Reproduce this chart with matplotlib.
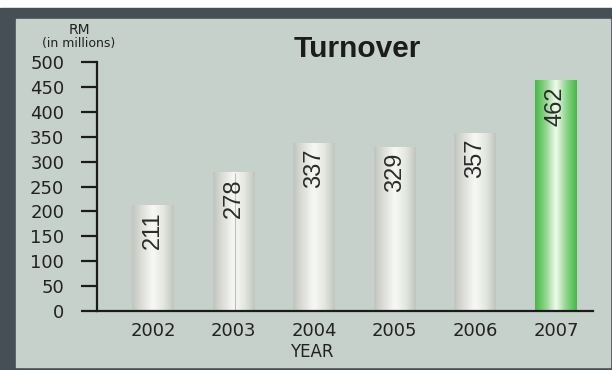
import numpy as np
import matplotlib.pyplot as plt
from matplotlib.colors import LinearSegmentedColormap
from matplotlib.patches import Rectangle

# Turnover, RM millions
years = ["2002", "2003", "2004", "2005", "2006", "2007"]
turnover = [211, 278, 337, 329, 357, 462]
y_ticks = [0, 50, 100, 150, 200, 250, 300, 350, 400, 450, 500]

frame_col = "#464e56"
panel_col = "#c6d1cb"

silver = LinearSegmentedColormap.from_list(
    "silver", ["#bfc5bc", "#dde1da", "#f8f9f6", "#e4e8e1", "#bfc5bc"])
green = LinearSegmentedColormap.from_list(
    "green", ["#45b845", "#8dd58a", "#f2faef", "#8dd58a", "#45b845"])

W, H = 612, 370
fig = plt.figure(figsize=(W / 100, H / 100), dpi=100)
fig.patch.set_facecolor("white")

# dark outer frame and light inner panel
fig.add_artist(Rectangle((0, 0), 1, 1 - 8 / H, transform=fig.transFigure,
                         color=frame_col, zorder=0))
fig.add_artist(Rectangle((16 / W, 3 / H), (610 - 16) / W, (351 - 3) / H,
                         transform=fig.transFigure, color=panel_col, zorder=0))

ax = fig.add_axes([97 / W, 1 - 311 / H, (593 - 97) / W, (311 - 62) / H])
ax.set_facecolor("none")

x = np.arange(len(years))
bars = ax.bar(x, turnover, width=0.52, color="none", edgecolor="none")

grad = np.linspace(0, 1, 256).reshape(1, -1)
for i, (b, v) in enumerate(zip(bars, turnover)):
    cmap = green if i == len(years) - 1 else silver
    x0, w = b.get_x(), b.get_width()
    ax.imshow(grad, cmap=cmap, aspect="auto", extent=(x0, x0 + w, 0, v),
              interpolation="bicubic", zorder=2)
    ax.annotate(str(v), xy=(b.get_x() + w / 2, v), xytext=(0, -4),
                textcoords="offset points", rotation=90, ha="center", va="top",
                fontsize=17, color="#2b2b2b", zorder=3,
                family="Liberation Sans")

# faint seam on the 2003 bar
ax.vlines(x[1] + 0.02, 0, turnover[1], color="#b9c1bc", lw=0.8, zorder=2.5)

ax.set_xlim(-0.695, 5.46)
ax.set_ylim(0, 500)
ax.set_xticks(x)
ax.set_xticklabels(years)
ax.set_yticks(y_ticks)

for s in ["top", "right"]:
    ax.spines[s].set_visible(False)
for s in ["left", "bottom"]:
    ax.spines[s].set_linewidth(1.6)
    ax.spines[s].set_color("#1b1b1b")
    ax.spines[s].set_zorder(4)

ax.tick_params(axis="y", length=11.5, width=1.6, color="#1b1b1b", pad=12,
               labelsize=13, labelcolor="#222222")
ax.tick_params(axis="x", length=0, pad=8, labelsize=13, labelcolor="#222222")

fig.text(357 / W, 1 - 49 / H, "Turnover", ha="center", va="center",
         fontsize=21.5, fontweight="bold", family="Liberation Sans",
         color="#1c1c1c")
fig.text(79 / W, 1 - 29.5 / H, "RM", ha="center", va="center",
         fontsize=10, color="#222222")
fig.text(79 / W, 1 - 43 / H, "(in millions)", ha="center", va="center",
         fontsize=9, color="#222222")
fig.text(312 / W, 1 - 352 / H, "YEAR", ha="center", va="center",
         fontsize=12, color="#222222")

fig.savefig("out.png", dpi=100)
